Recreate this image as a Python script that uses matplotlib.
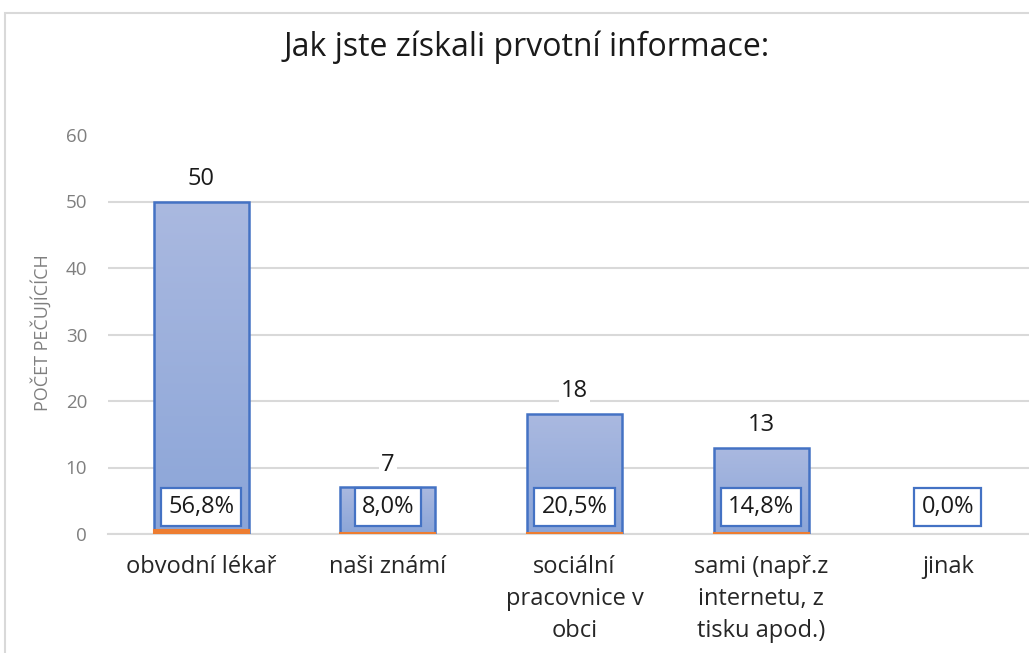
import matplotlib
matplotlib.use("Agg")
import matplotlib.pyplot as plt
import numpy as np
from matplotlib.patches import Rectangle

categories = ["obvodní lékař", "naši známí", "sociální\npracovnice v\nobci",
              "sami (např.z\ninternetu, z\ntisku apod.)", "jinak"]
counts = [50, 7, 18, 13, 0]
shares = [0.568, 0.080, 0.205, 0.148, 0.0]
share_labels = ["56,8%", "8,0%", "20,5%", "14,8%", "0,0%"]
yticks = [0, 10, 20, 30, 40, 50, 60]
title = "Jak jste získali prvotní informace:"
ylabel = "POČET PEČUJÍCÍCH"

plt.rcParams['font.family'] = ['Open Sans', 'DejaVu Sans']

W, H = 1029, 653
fig = plt.figure(figsize=(W / 100, H / 100), dpi=100)
fig.patches.append(Rectangle((5 / W, -0.1), 1.2, (H - 13) / H + 0.1, transform=fig.transFigure,
                             fill=False, edgecolor="#d9d9d9", linewidth=1.5))

left, right = 108, 1041
bottom_px, top_px = 534, 135
ax = fig.add_axes([left / W, (H - bottom_px) / H, (right - left) / W, (bottom_px - top_px) / H])
x = np.arange(len(categories))
ax.set_xlim(-0.5, len(categories) - 0.5)
ax.set_ylim(0, 60)

bw = 0.51
top_c = np.array([0.667, 0.725, 0.878])
bot_c = np.array([0.545, 0.647, 0.847])
grad = np.linspace(0, 1, 256)[:, None, None] * (top_c - bot_c) + bot_c
grad = grad[::-1]
for xi, c in zip(x, counts):
    if c <= 0:
        continue
    rect = Rectangle((xi - bw / 2, 0), bw, c, facecolor="none", edgecolor="#4472C4",
                     linewidth=1.8, zorder=3)
    ax.add_patch(rect)
    im = ax.imshow(np.tile(grad, (1, 2, 1)), extent=[xi - bw / 2, xi + bw / 2, 0, c],
                   aspect="auto", zorder=2, interpolation="bilinear")
    im.set_clip_path(rect)
    ax.text(xi, c + 3.45, str(c), ha="center", va="center", fontsize=17, color="#1a1a1a",
            zorder=5, bbox=dict(facecolor="white", edgecolor="none", pad=1.5))

for xi, s in zip(x, shares):
    if s > 0:
        ax.bar(xi, s, width=bw, color="#ED7D31", edgecolor="#ED7D31", linewidth=1.5, zorder=4)
for xi, lab in zip(x, share_labels):
    ax.text(xi, 4.0, lab, ha="center", va="center", fontsize=17, color="#1a1a1a", zorder=6,
            bbox=dict(boxstyle="square,pad=0.3", facecolor="white", edgecolor="#4472C4",
                      linewidth=1.6))

ax.set_yticks(yticks)
ax.set_yticklabels([str(t) for t in yticks], color="#7f7f7f", fontsize=13.5)
ax.set_xticks(x)
ax.set_xticklabels(categories, fontsize=17, color="#262626", linespacing=1.45, va="top")
ax.tick_params(axis="both", length=0)
ax.tick_params(axis="y", pad=15)
ax.tick_params(axis="x", pad=15)
ax.yaxis.grid(True, color="#d9d9d9", linewidth=1.5)
ax.set_axisbelow(True)
gl = ax.yaxis.get_gridlines()
gl[-1].set_visible(False)
for s in ["top", "right", "left"]:
    ax.spines[s].set_visible(False)
ax.spines["bottom"].set_color("#d9d9d9")
ax.spines["bottom"].set_linewidth(1.5)
ax.set_facecolor("none")

fig.text(41 / W, 1 - 333 / H, ylabel, rotation=90, ha="center", va="center",
         fontsize=13, color="#7f7f7f")
fig.text(527 / W, 1 - 47 / H, title, ha="center", va="center", fontsize=23, color="#1a1a1a")

fig.savefig("out.png", dpi=100)
